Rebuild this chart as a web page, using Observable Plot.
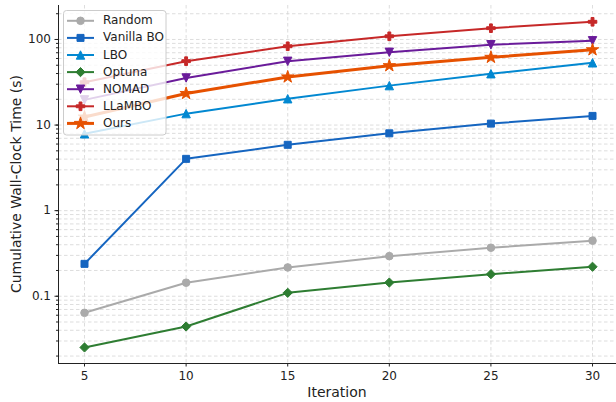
<!DOCTYPE html>
<html><head><meta charset="utf-8">
<script src="https://cdn.jsdelivr.net/npm/d3@7"></script>
<script src="https://cdn.jsdelivr.net/npm/@observablehq/plot@0.6"></script>
<style>body{margin:0;background:#fff}#chart{position:relative;width:616px;height:402px}</style>
</head><body><div id="chart"></div>
<script>
const iterations = [5, 10, 15, 20, 25, 30];
const random    = [0.064, 0.144, 0.217, 0.294, 0.369, 0.446];
const vanillaBO = [0.239, 4.03, 5.88, 8.01, 10.4, 12.8];
const lbo       = [7.9, 13.6, 20.3, 28.9, 39.8, 53.4];
const optuna    = [0.0252, 0.0443, 0.1096, 0.1445, 0.181, 0.221];
const nomad     = [19.7, 35.5, 55.6, 70.9, 86.8, 96.6];
const llambo    = [31.7, 55.8, 83.3, 109, 135.5, 161];
const ours      = [12.4, 23.4, 36.5, 49.4, 61.9, 75.8];

const seriesNames = ["Random", "Vanilla BO", "LBO", "Optuna", "NOMAD", "LLaMBO", "Ours"];
const seriesValues = [random, vanillaBO, lbo, optuna, nomad, llambo, ours];
const colors = ["#aaaaaa", "#1565c0", "#0288d1", "#2e7d32", "#6a1b9a", "#c62828", "#e65100"];
const yMajorTicks = [0.1, 1, 10, 100];
const yTickLabels = ["0.1", "1", "10", "100"];

// marker shapes (size -> radius)
const mk = fn => ({draw(ctx, size) { fn(ctx, Math.sqrt(size / Math.PI)); }});
const poly = (ctx, pts) => { ctx.moveTo(pts[0][0], pts[0][1]); for (let i = 1; i < pts.length; i++) ctx.lineTo(pts[i][0], pts[i][1]); ctx.closePath(); };
const symCircle = mk((c, r) => { c.moveTo(r, 0); c.arc(0, 0, r, 0, 2 * Math.PI); });
const symSquare = mk((c, r) => poly(c, [[-r, -r], [r, -r], [r, r], [-r, r]]));
const symTriUp = mk((c, r) => poly(c, [[0, -r], [r, r], [-r, r]]));
const symTriDown = mk((c, r) => poly(c, [[0, r], [r, -r], [-r, -r]]));
const symDiamond = mk((c, r) => poly(c, [[0, -r], [r, 0], [0, r], [-r, 0]]));
const symPlus = mk((c, r) => { const t = r / 3; poly(c, [[-t, -r], [t, -r], [t, -t], [r, -t], [r, t], [t, t], [t, r], [-t, r], [-t, t], [-r, t], [-r, -t], [-t, -t]]); });
const symStar = mk((c, r) => { const pts = []; for (let i = 0; i < 10; i++) { const a = -Math.PI / 2 + i * Math.PI / 5; const rr = i % 2 ? r * 0.382 : r; pts.push([rr * Math.cos(a), rr * Math.sin(a)]); } poly(c, pts); });
const symbols = [symCircle, symSquare, symTriUp, symDiamond, symTriDown, symPlus, symStar];
const radii = [3.8, 3.5, 4.2, 4.6, 4.2, 4.3, 6.5];
const widths = [2, 2, 2, 2, 2, 2, 3];

const xDomain = [3.72, 31.18];
const yDomain = [0.01637, 249.5];

const minor = [];
for (let e = -2; e <= 2; e++) for (let m = 1; m <= 9; m++) { const v = m * Math.pow(10, e); if (v >= yDomain[0] && v <= yDomain[1]) minor.push(+v.toPrecision(3)); }

const tables = seriesValues.map((vals, s) => iterations.map((x, i) => ({x, y: vals[i], s: seriesNames[s]})));

const gridStyle = {stroke: "#d4d4d4", strokeWidth: 0.8, strokeDasharray: "3.5,2.5", strokeOpacity: 1};
const marks = [
  Plot.gridY(minor, gridStyle),
  Plot.gridX(iterations, gridStyle)
];
tables.forEach((t, s) => {
  marks.push(Plot.line(t, {x: "x", y: "y", stroke: colors[s], strokeWidth: widths[s]}));
  marks.push(Plot.dot(t, {x: "x", y: "y", fill: colors[s], stroke: colors[s], strokeWidth: 1, symbol: symbols[s], r: radii[s]}));
});
marks.push(
  Plot.axisY(minor, {tickSize: 2, fill: "none", label: null, stroke: "#222"}),
  Plot.axisY(yMajorTicks, {tickSize: 3.5, tickPadding: 4, fontSize: 12, tickFormat: d => yTickLabels[yMajorTicks.indexOf(d)], label: null, stroke: "#222", fill: "#222"}),
  Plot.axisX(iterations, {tickSize: 3.5, tickPadding: 4, fontSize: 12, label: null, stroke: "#222", fill: "#222"}),
  Plot.ruleX([xDomain[0]], {stroke: "#222", strokeWidth: 1}),
  Plot.ruleY([yDomain[0]], {stroke: "#222", strokeWidth: 1})
);

const plot = Plot.plot({
  width: 616, height: 402,
  marginLeft: 58, marginRight: 0, marginTop: 5, marginBottom: 39,
  x: {domain: xDomain, axis: null},
  y: {type: "log", domain: yDomain, axis: null},
  style: {fontFamily: "DejaVu Sans, sans-serif", fontSize: "12px", background: "white", color: "#222", overflow: "visible"},
  marks
});
document.getElementById("chart").appendChild(plot);

const svg = d3.select(plot);
svg.append("text").attr("x", 337).attr("y", 393).attr("text-anchor", "middle").attr("dominant-baseline", "middle")
  .style("font-size", "14px").style("font-family", "DejaVu Sans").attr("fill", "#222").text("Iteration");
svg.append("text").attr("transform", "translate(17,184) rotate(-90)").attr("text-anchor", "middle").attr("dominant-baseline", "middle")
  .style("font-size", "14px").style("font-family", "DejaVu Sans").attr("fill", "#222").text("Cumulative Wall-Clock Time (s)");

// legend
const lg = svg.append("g");
lg.append("rect").attr("x", 63.5).attr("y", 10.5).attr("width", 102.5).attr("height", 124.5).attr("rx", 3)
  .attr("fill", "white").attr("fill-opacity", 0.8).attr("stroke", "#cccccc").attr("stroke-width", 1);
seriesNames.forEach((name, s) => {
  const cy = 20.8 + s * 17.1;
  lg.append("line").attr("x1", 67).attr("x2", 94).attr("y1", cy).attr("y2", cy).attr("stroke", colors[s]).attr("stroke-width", widths[s]);
  lg.append("path").attr("transform", `translate(80.5,${cy})`).attr("d", d3.symbol(symbols[s], radii[s] * radii[s] * Math.PI)())
    .attr("fill", colors[s]).attr("stroke", colors[s]).attr("stroke-width", 1);
  lg.append("text").attr("x", 103).attr("y", cy).attr("text-anchor", "start").attr("dominant-baseline", "middle").style("font-size", "12px")
    .style("font-family", "DejaVu Sans").attr("fill", "#222").text(name);
});
</script></body></html>
